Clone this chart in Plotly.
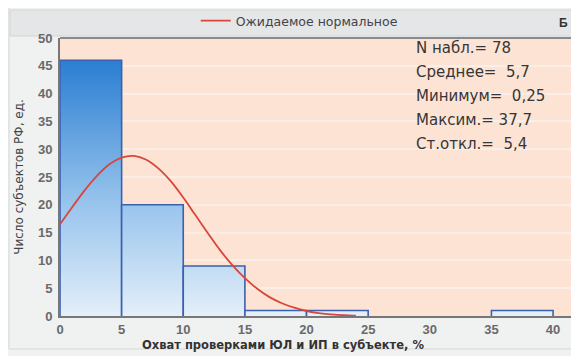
import plotly.graph_objects as go

# Histogram data
bin_left = [0, 5, 10, 15, 20, 25, 30, 35]
bin_width = 5
counts = [46, 20, 9, 1, 1, 0, 0, 1]

# Expected normal curve
curve_x = [0, 1, 2, 3, 4, 5, 6, 7, 8, 9, 10, 11, 12, 13, 14, 15, 16, 17, 18, 19, 20, 21, 22, 23, 24]
curve_y = [16.5, 19.6, 22.6, 25.2, 27.3, 28.5, 28.8, 28.1, 26.5, 24.2, 21.3, 18.1, 14.9, 11.8,
           9.1, 6.8, 4.9, 3.4, 2.3, 1.5, 0.9, 0.5, 0.3, 0.15, 0.05]

stats_text = ["N набл.= 78", "Среднее=  5,7", "Минимум=  0,25", "Максим.= 37,7", "Ст.откл.=  5,4"]
legend_name = "Ожидаемое нормальное"
panel_label = "Б"
x_title = "Охват проверками ЮЛ и ИП в субъекте, %"
y_title = "Число субъектов РФ, ед."
x_ticks = [0, 5, 10, 15, 20, 25, 30, 35, 40]
y_ticks = [0, 5, 10, 15, 20, 25, 30, 35, 40, 45, 50]

FONT = "Liberation Sans, Arial"
WIDE = "DejaVu Sans"

W, H = 571, 348
ML, MR, MT, MB = 52, 4, 30, 40
plot_w = W - ML - MR
plot_h = H - MT - MB

fig = go.Figure()

# histogram bars: gradient fill + outline
for l, c in zip(bin_left, counts):
    if c <= 0:
        continue
    fig.add_trace(go.Scatter(
        x=[l, l, l + bin_width, l + bin_width],
        y=[0, c, c, 0],
        mode="lines", fill="toself",
        line=dict(color="#3b60b0", width=1.6),
        fillgradient=dict(type="vertical",
                          colorscale=[[0, "#e4eff9"], [0.45, "#96c3ec"], [1, "#2a7ed2"]],
                          start=0, stop=46),
        showlegend=False, hoverinfo="skip"))

fig.add_trace(go.Scatter(
    x=curve_x, y=curve_y, mode="lines", line=dict(color="#d9463a", width=1.8, shape="spline"),
    name=legend_name, showlegend=True))

# outer frame
fig.add_shape(type="rect", xref="paper", yref="paper",
              x0=-(ML - 1) / plot_w, x1=1 + (MR + 5) / plot_w,
              y0=-(349 - 8 - (MT + plot_h)) / plot_h, y1=1 + (MT + 5) / plot_h,
              fillcolor="rgba(0,0,0,0)", line=dict(color="#d6d8d8", width=1), layer="below")

# legend strip background
fig.add_shape(type="rect", xref="paper", yref="paper",
              x0=-0.097, x1=1.02, y0=1 + 2 / plot_h, y1=1 + 28 / plot_h,
              fillcolor="#e4e6e8", line=dict(color="#d2d4d6", width=1), layer="below")

for i, t in enumerate(stats_text):
    fig.add_annotation(text=t, xref="paper", yref="paper", x=(414 - 8 - ML) / plot_w,
                       y=1 - (48 - 38 + i * 24) / plot_h,
                       xanchor="left", yanchor="middle", showarrow=False,
                       font=dict(family=WIDE, size=15, color="#363636"))

fig.add_annotation(text="<b>" + panel_label + "</b>", xref="paper", yref="paper",
                   x=(563 - 8 - ML) / plot_w, y=1 + 15 / plot_h,
                   xanchor="center", yanchor="middle", showarrow=False,
                   font=dict(family=FONT, size=12, color="#333"))

# x-axis title (offset to the left like the original)
fig.add_annotation(text="<b>" + x_title + "</b>", xref="paper", yref="paper",
                   x=(283 - 8 - ML) / plot_w, y=-(345 - 316) / plot_h,
                   xanchor="center", yanchor="middle", showarrow=False,
                   font=dict(family=WIDE, size=11.5, color="#333"))

fig.update_layout(
    width=W, height=H,
    margin=dict(l=ML, r=MR, t=MT, b=MB, autoexpand=False),
    paper_bgcolor="#f0f1f1",
    plot_bgcolor="#fde3d4",
    legend=dict(orientation="h", xref="container", yref="container",
                x=0.51, y=1 - 13 / H, xanchor="center", yanchor="middle",
                bgcolor="rgba(0,0,0,0)",
                font=dict(family=WIDE, size=12.5, color="#444")),
    xaxis=dict(range=[0, 41.78], tickvals=x_ticks, showgrid=False, zeroline=False,
               showline=True, linecolor="#777", linewidth=2, automargin=False,
               ticks="", tickfont=dict(family=FONT, size=13, color="#6a6a6a", weight="bold")),
    yaxis=dict(range=[0, 50], tickvals=y_ticks, showgrid=True, gridcolor="#fbeee6", gridwidth=1.5,
               zeroline=False, showline=True, linecolor="#777", linewidth=2, automargin=False,
               ticks="", ticklabelstandoff=3,
               tickfont=dict(family=FONT, size=13, color="#6a6a6a", weight="bold"),
               title=dict(text=y_title, standoff=12,
                          font=dict(family=WIDE, size=12, color="#444"))),
)
fig.add_shape(type="line", xref="paper", yref="paper", x0=0, x1=1, y0=1, y1=1,
              line=dict(color="#8a8a8a", width=2))

fig.write_html("out.html")
